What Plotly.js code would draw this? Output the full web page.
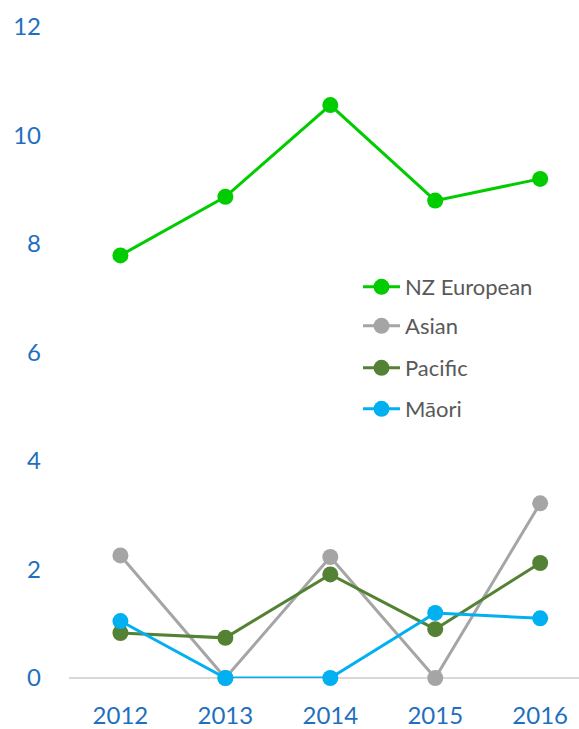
<!DOCTYPE html>
<html>
<head>
<meta charset="utf-8">
<script src="https://cdn.plot.ly/plotly-3.0.1.min.js"></script>
<style>html,body{margin:0;padding:0;background:#fff;}#chart{width:579px;height:729px;}</style>
</head>
<body>
<div id="chart"></div>
<script>
// Survey years (x axis categories)
const years = ['2012', '2013', '2014', '2015', '2016'];

// Values per ethnic group
const nzEuropean = [7.79, 8.87, 10.56, 8.80, 9.20];
const asian      = [2.26, 0.00, 2.23, 0.00, 3.22];
const pacific    = [0.83, 0.74, 1.91, 0.90, 2.12];
const maori      = [1.05, 0.00, 0.00, 1.20, 1.10];

// Y axis ticks
const yTicks = [0, 2, 4, 6, 8, 10, 12];

const seriesNames  = ['NZ European', 'Asian', 'Pacific', 'Māori'];
const seriesValues = [nzEuropean, asian, pacific, maori];
const seriesColors = ['#00CC00', '#A5A5A5', '#548235', '#00B0F0'];
const legendIds    = ['legend', 'legend2', 'legend3', 'legend4'];
const legendRows   = [287, 326, 368, 409];   // pixel rows of the legend entries

const W = 579, H = 729;
const M = {l: 69, r: 0, t: 27, b: 51};
const plotW = W - M.l - M.r, plotH = H - M.t - M.b;

const traces = seriesNames.map((name, i) => ({
  type: 'scatter',
  mode: 'lines+markers',
  name: name,
  x: years,
  y: seriesValues[i],
  line: {color: seriesColors[i], width: 3},
  marker: {color: seriesColors[i], size: 16},
  cliponaxis: false,
  legend: legendIds[i]
}));

const tickFont = {family: 'Lato, sans-serif', size: 24, color: '#1F6FBF'};
const legendFont = {family: 'Lato, sans-serif', size: 22, color: '#595959'};
const layout = {
  width: W, height: H,
  margin: M,
  paper_bgcolor: '#fff', plot_bgcolor: '#fff',
  showlegend: true,
  xaxis: {
    type: 'category',
    range: [-0.49, 4.37],
    showgrid: false, zeroline: false, showline: false,
    ticks: '', ticklabelstandoff: 21,
    tickfont: tickFont
  },
  yaxis: {
    range: [0, 12],
    tickvals: yTicks,
    showgrid: false, showline: false,
    zeroline: true, zerolinecolor: '#D9D9D9', zerolinewidth: 1.5,
    ticks: '', ticklabelstandoff: 27,
    tickfont: tickFont
  }
};
legendIds.forEach((id, i) => {
  layout[id] = {
    xref: 'paper', yref: 'paper',
    x: (358 - M.l) / plotW, y: (H - M.b - legendRows[i]) / plotH,
    xanchor: 'left', yanchor: 'middle',
    itemwidth: 37,
    bgcolor: 'rgba(0,0,0,0)', borderwidth: 0,
    font: legendFont
  };
});

Plotly.newPlot('chart', traces, layout, {displayModeBar: false});
</script>
</body>
</html>
